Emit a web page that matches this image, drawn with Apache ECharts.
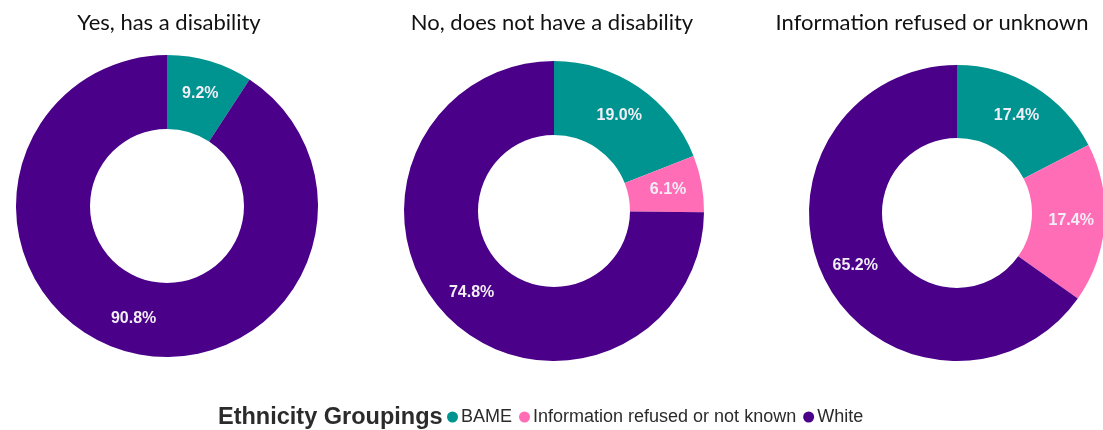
<!DOCTYPE html>
<html>
<head>
<meta charset="utf-8">
<script src="https://cdn.jsdelivr.net/npm/echarts@6/dist/echarts.min.js"></script>
<style>
  html, body { margin: 0; padding: 0; background: #ffffff; }
  #chart { width: 1103px; height: 430px; }
</style>
</head>
<body>
<div id="chart"></div>
<script>
// Ethnicity grouping share (%) within each disability status
const panels = ['Yes, has a disability', 'No, does not have a disability', 'Information refused or unknown'];
const groups = ['BAME', 'Information refused or not known', 'White'];
const bame = [9.2, 19.0, 17.4];
const refused = [0, 6.1, 17.4];
const white = [90.8, 74.8, 65.2];
const legendHeading = 'Ethnicity Groupings';

const colors = ['#009490', '#FF6DB6', '#4A0088'];

// layout of each donut: centre and radii in pixels
const layout = [
  { cx: 167, cy: 206, r0: 77, r: 151, titleX: 169 },
  { cx: 554, cy: 211, r0: 76, r: 150, titleX: 552 },
  { cx: 957, cy: 213, r0: 75, r: 148, titleX: 932 }
];

const series = panels.map((p, i) => {
  const vals = [bame[i], refused[i], white[i]];
  const data = [];
  vals.forEach((v, k) => {
    if (v > 0) data.push({ name: groups[k], value: v, itemStyle: { color: colors[k] } });
  });
  return {
    type: 'pie',
    name: p,
    center: [layout[i].cx, layout[i].cy],
    radius: [layout[i].r0, layout[i].r],
    startAngle: 90,
    clockwise: true,
    avoidLabelOverlap: false,
    silent: true,
    label: {
      show: true,
      position: 'inside',
      formatter: (d) => d.value.toFixed(1) + '%',
      color: '#f2eef6',
      fontFamily: '"Liberation Sans", Arial, sans-serif',
      fontSize: 16,
      fontWeight: 'bold'
    },
    labelLine: { show: false },
    itemStyle: { borderWidth: 0 },
    data: data
  };
});

const titles = panels.map((p, i) => ({
  text: p,
  left: layout[i].titleX,
  textAlign: 'center',
  top: 12,
  padding: 0,
  textStyle: {
    fontFamily: 'Lato, "Open Sans", sans-serif',
    fontSize: 22,
    fontWeight: 'normal',
    color: '#111111'
  }
}));
titles.push({
  text: legendHeading,
  left: 218,
  top: 406,
  padding: 0,
  textStyle: {
    fontFamily: '"Liberation Sans", Arial, sans-serif',
    fontSize: 23.5,
    fontWeight: 'bold',
    color: '#2b2b2b'
  }
});

const chart = echarts.init(document.getElementById('chart'), null, { renderer: 'canvas' });
chart.setOption({
  animation: false,
  backgroundColor: '#ffffff',
  title: titles,
  legend: {
    data: groups,
    left: 447,
    top: 408,
    padding: 0,
    icon: 'circle',
    itemWidth: 11,
    itemHeight: 11,
    itemGap: 7,
    selectedMode: false,
    textStyle: {
      fontFamily: '"Liberation Sans", Arial, sans-serif',
      fontSize: 18,
      color: '#2b2b2b',
      padding: [0, 0, 0, -2]
    }
  },
  series: series
});
</script>
</body>
</html>
